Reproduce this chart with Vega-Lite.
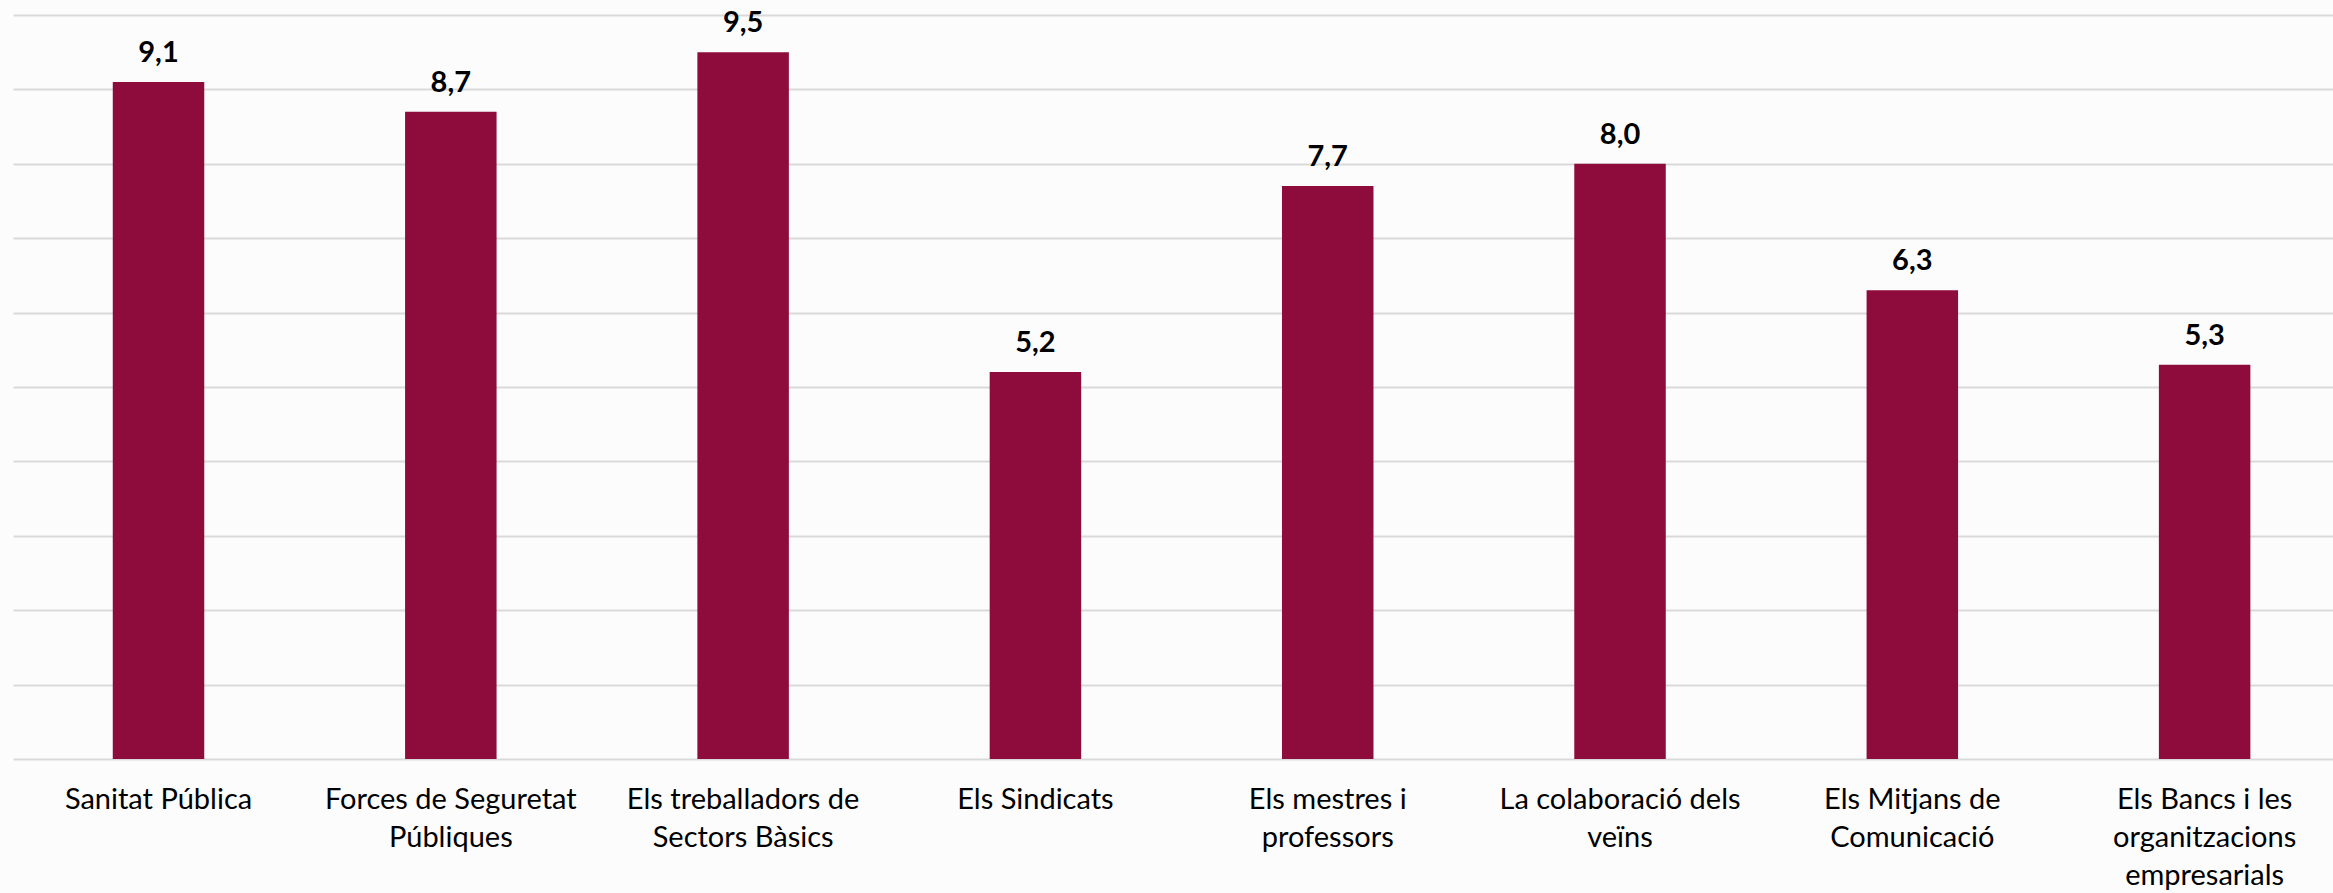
{
  "$schema": "https://vega.github.io/schema/vega-lite/v6.json",
  "width": 2320,
  "height": 744,
  "padding": {"left": 13, "top": 15, "right": 0, "bottom": 134},
  "autosize": {"type": "none"},
  "background": "#fcfcfc",
  "config": {
    "view": {"stroke": null},
    "locale": {"number": {"decimal": ",", "thousands": ".", "grouping": [3], "currency": ["", " €"]}},
    "font": "Lato"
  },
  "data": {
    "values": [
      {"entitat": "Sanitat Pública", "valor": 9.1},
      {"entitat": "Forces de Seguretat Públiques", "valor": 8.7},
      {"entitat": "Els treballadors de Sectors Bàsics", "valor": 9.5},
      {"entitat": "Els Sindicats", "valor": 5.2},
      {"entitat": "Els mestres i professors", "valor": 7.7},
      {"entitat": "La colaboració dels veïns", "valor": 8.0},
      {"entitat": "Els Mitjans de Comunicació", "valor": 6.3},
      {"entitat": "Els Bancs i les organitzacions empresarials", "valor": 5.3}
    ]
  },
  "encoding": {
    "x": {
      "field": "entitat",
      "type": "nominal",
      "sort": null,
      "scale": {"paddingInner": 0.687, "paddingOuter": 0.312, "align": 0.547},
      "axis": {
        "title": null,
        "labelAngle": 0,
        "ticks": false,
        "domain": false,
        "labelFont": "Lato",
        "labelFontSize": 29,
        "labelColor": "#000000",
        "labelPadding": 26,
        "labelLineHeight": 38,
        "labelLimit": 400,
        "labelBaseline": "top",
        "labelOverlap": false,
        "labelExpr": "datum.value == 'Forces de Seguretat Públiques' ? ['Forces de Seguretat', 'Públiques'] : datum.value == 'Els treballadors de Sectors Bàsics' ? ['Els treballadors de', 'Sectors Bàsics'] : datum.value == 'Els mestres i professors' ? ['Els mestres i', 'professors'] : datum.value == 'La colaboració dels veïns' ? ['La colaboració dels', 'veïns'] : datum.value == 'Els Mitjans de Comunicació' ? ['Els Mitjans de', 'Comunicació'] : datum.value == 'Els Bancs i les organitzacions empresarials' ? ['Els Bancs i les', 'organitzacions', 'empresarials'] : datum.value"
      }
    },
    "y": {
      "field": "valor",
      "type": "quantitative",
      "scale": {"domain": [0, 10], "nice": false},
      "axis": {
        "title": null,
        "labels": false,
        "ticks": false,
        "domain": false,
        "values": [0, 1, 2, 3, 4, 5, 6, 7, 8, 9, 10],
        "gridColor": "#d9d9d9",
        "gridWidth": 2
      }
    }
  },
  "layer": [
    {"mark": {"type": "bar", "color": "#8e0c3c"}},
    {
      "mark": {"type": "text", "baseline": "alphabetic", "dy": -20, "fontSize": 29, "fontWeight": "bold", "font": "Lato", "color": "#000000"},
      "encoding": {"text": {"field": "valor", "type": "quantitative", "format": ".1f"}}
    }
  ]
}
